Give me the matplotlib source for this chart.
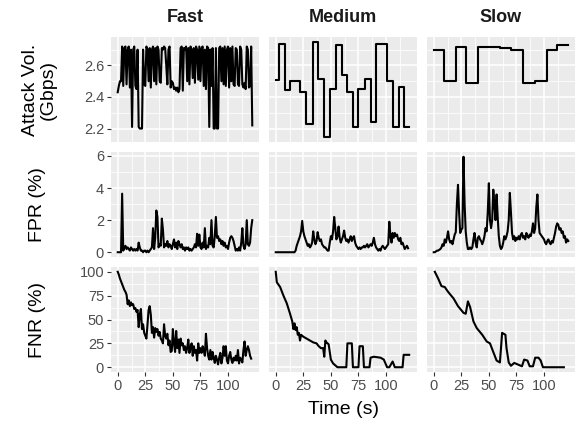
import matplotlib.pyplot as plt
import numpy as np

plt.rcParams['font.family'] = ['Liberation Sans', 'DejaVu Sans']

# facet labels
speeds = ['Fast', 'Medium', 'Slow']
row_titles = ['Attack Vol.\n(Gbps)', 'FPR (%)', 'FNR (%)']
x_ticks = [0, 25, 50, 75, 100]
y_ticks = [[2.2, 2.4, 2.6], [0, 2, 4, 6], [0, 25, 50, 75, 100]]

# --- attack volume (Gbps) ---
fast_vol = [2.43, 2.47, 2.50, 2.50, 2.72, 2.47, 2.71, 2.72, 2.48, 2.70, 2.72, 2.46, 2.70, 2.21,
            2.70, 2.72, 2.47, 2.45, 2.70, 2.21, 2.20, 2.20, 2.20, 2.70, 2.48, 2.47, 2.72, 2.70,
            2.50, 2.71, 2.46, 2.70, 2.72, 2.50, 2.71, 2.48, 2.72, 2.70, 2.50, 2.49, 2.71, 2.70,
            2.72, 2.71, 2.60, 2.48, 2.70, 2.72, 2.46, 2.50, 2.49, 2.45, 2.46, 2.44, 2.46, 2.43,
            2.45, 2.71, 2.72, 2.44, 2.71, 2.70, 2.72, 2.50, 2.71, 2.48, 2.72, 2.70, 2.52, 2.71,
            2.49, 2.72, 2.70, 2.51, 2.72, 2.50, 2.71, 2.72, 2.47, 2.70, 2.45, 2.72, 2.71, 2.21,
            2.70, 2.47, 2.71, 2.20, 2.20, 2.71, 2.20, 2.20, 2.71, 2.72, 2.50, 2.71, 2.48, 2.72,
            2.47, 2.70, 2.72, 2.46, 2.71, 2.50, 2.72, 2.48, 2.47, 2.71, 2.70, 2.48, 2.47, 2.72,
            2.70, 2.48, 2.46, 2.49, 2.45, 2.72, 2.70, 2.46, 2.47, 2.72, 2.22]
medium_vol_t = [0, 3, 8, 13, 22, 27, 34, 38, 44, 49, 55, 60, 65, 70, 75, 81, 86, 91, 101, 106,
                112, 116, 121]
medium_vol = [2.51, 2.735, 2.445, 2.50, 2.43, 2.23, 2.75, 2.515, 2.145, 2.45, 2.73, 2.54, 2.43,
              2.21, 2.45, 2.515, 2.24, 2.735, 2.50, 2.21, 2.465, 2.21, 2.21]
slow_vol_t = [0, 9, 20, 29, 40, 60, 70, 81, 92, 103, 112, 122]
slow_vol = [2.70, 2.50, 2.72, 2.49, 2.72, 2.71, 2.70, 2.49, 2.50, 2.70, 2.73, 2.73]

# --- false positive rate (%) ---
fast_fpr = [0, 0, 0, 0, 3.65, 0.1, 0.3, 0.4, 0.2, 0.3, 0.2, 0.1, 0.3, 0.2, 0.1, 0.2, 0.1, 0.2,
            0.1, 0.6, 0.3, 0.1, 0.1, 0.0, 0.1, 0.1, 0.0, 0.1, 0.0, 0.1, 0.2, 0.3, 1.5, 0.2, 0.9,
            2.6, 2.2, 0.3, 0.5, 0.4, 2.1, 1.4, 0.3, 0.5, 0.4, 0.7, 0.3, 0.5, 0.4, 0.2, 0.5, 0.8,
            0.3, 0.6, 0.2, 0.7, 0.5, 0.3, 0.5, 0.2, 0.3, 0.1, 0.3, 0.2, 0.3, 0.1, 0.2, 0.1, 0.2,
            0.3, 0.5, 0.3, 1.15, 0.4, 1.1, 0.3, 0.2, 0.6, 0.3, 1.5, 0.2, 0.4, 0.3, 0.9, 0.5, 2.0,
            0.4, 0.3, 1.0, 2.2, 0.9, 1.0, 0.7, 0.8, 0.5, 0.7, 0.4, 0.6, 0.3, 0.4, 0.2, 0.6, 0.9,
            1.0, 0.9, 0.7, 0.4, 0.1, 0.2, 0.1, 0.3, 0.1, 0.6, 1.5, 0.4, 0.2, 0.5, 2.0, 0.5, 0.4,
            0.6, 1.5, 2.0]
medium_fpr = [0, 0, 0, 0, 0, 0, 0, 0, 0, 0, 0, 0, 0, 0, 0, 0, 0, 0, 0.1, 0.4, 0.6, 0.8, 1.0,
              1.3, 1.95, 1.3, 1.0, 0.8, 0.6, 0.4, 0.5, 0.3, 0.4, 0.6, 1.3, 0.8, 0.5, 0.7, 1.25,
              0.9, 0.7, 0.8, 0.5, 0.4, 0.3, 0.3, 0.2, 0.1, 0.1, 0.6, 1.0, 0.8, 1.3, 2.2, 1.5, 0.8,
              1.0, 1.6, 0.9, 0.6, 0.8, 1.0, 1.35, 0.9, 0.7, 0.8, 0.6, 0.8, 1.0, 0.7, 0.9, 1.0,
              0.6, 0.4, 0.3, 0.2, 0.3, 0.2, 0.3, 0.3, 0.4, 0.3, 0.4, 0.5, 0.3, 0.4, 0.5, 0.4, 0.6,
              0.9, 0.5, 0.3, 0.2, 0.1, 0.2, 0.1, 0.3, 0.4, 0.3, 0.2, 0.3, 0.4, 0.5, 1.9, 1.0, 0.6,
              1.2, 0.9, 1.2, 1.0, 1.1, 0.8, 0.7, 0.9, 0.5, 0.6, 0.4, 0.2, 0.3, 0.4, 0.25]
slow_fpr = [0.0, 0.0, 0.05, 0.1, 0.1, 0.15, 0.2, 0.3, 0.5, 0.4, 0.8, 0.6, 0.9, 1.3, 0.8, 0.6,
            0.7, 0.5, 0.8, 1.1, 1.25, 3.0, 4.2, 2.5, 1.2, 1.4, 1.5, 5.95, 3.0, 1.3, 0.6, 0.2, 0.2,
            0.3, 0.2, 0.3, 0.8, 1.2, 0.6, 0.3, 0.9, 1.0, 0.8, 0.7, 0.5, 0.7, 1.0, 1.5, 1.3, 2.5,
            4.3, 2.0, 1.5, 2.0, 3.9, 3.0, 2.0, 3.6, 2.2, 1.0, 0.4, 0.2, 0.3, 0.6, 1.0, 0.8, 1.0,
            1.3, 2.0, 3.7, 2.5, 1.2, 0.8, 1.0, 0.7, 0.9, 0.8, 1.0, 0.8, 1.1, 1.2, 0.9, 1.0, 0.8,
            1.2, 1.0, 0.9, 1.1, 1.0, 1.3, 1.8, 1.2, 1.5, 2.8, 3.6, 2.0, 1.2, 1.1, 1.0, 0.9, 0.8,
            0.6, 0.5, 0.7, 0.8, 0.6, 0.5, 0.7, 0.6, 0.9, 1.2, 1.6, 1.8, 1.7, 1.4, 1.5, 1.2, 1.3,
            0.9, 1.0, 0.6, 0.8, 0.7]

# --- false negative rate (%) ---
fast_fnr = [100, 97, 93, 90, 87, 84, 81, 79, 76, 66, 70, 64, 68, 65, 66, 61, 62, 58, 60, 42, 55,
            61, 40, 45, 36, 33, 30, 45, 60, 64, 55, 36, 42, 31, 41, 37, 40, 33, 37, 30, 28, 25,
            45, 33, 30, 35, 23, 28, 16, 17, 40, 25, 16, 38, 20, 29, 15, 30, 23, 25, 18, 22, 15,
            20, 29, 15, 20, 25, 12, 22, 15, 18, 7, 25, 15, 20, 15, 22, 18, 12, 35, 20, 12, 8, 18,
            8, 16, 10, 4.5, 12, 8, 3, 10, 15, 4, 10, 22, 12, 22, 7, 4, 12, 16, 8, 4.5, 10, 7, 12,
            7, 18, 4, 10, 8, 5, 18, 27, 12, 18, 22, 18, 12, 9]
medium_fnr_t = [0, 1, 4, 7, 10, 13, 15, 16, 17, 18, 19, 20, 21, 22, 23, 25, 28, 31, 34, 37, 39,
                41, 43, 44, 45, 46, 48, 50, 52, 54, 56, 64, 65, 69, 70, 75, 76, 79, 80, 85, 86,
                89, 95, 98, 101, 103, 106, 108, 110, 115, 116, 121]
medium_fnr = [100, 89, 84, 75, 67, 56, 48, 40, 46, 39, 42, 34, 36, 28, 34, 32, 30, 28, 26, 25, 22,
              20, 20, 11, 28, 26, 24, 8, 4, 2, 0, 0, 25, 25, 0, 0, 22, 22, 0, 0, 10, 11, 10, 8, 0,
              0, 6, 0, 0, 0, 13, 13]
slow_fnr_t = [1, 4, 7, 10, 13, 18, 22, 27, 29, 31, 33, 36, 39, 44, 48, 51, 54, 57, 60, 61, 62,
              65, 66, 68, 70, 73, 78, 80, 82, 85, 87, 90, 92, 95, 97, 99, 118]
slow_fnr = [100, 93, 85, 84, 79, 72, 64, 57, 56, 69, 63, 48, 41, 34, 27, 25, 16, 7, 5, 20, 36, 34,
            20, 5, 1.5, 4.5, 2, 1, 8, 7, 1, 1, 10, 10, 7, 0, 0]

# (x, y, step?) per panel, rows = metric, cols = speed
panels = [
    [(np.arange(len(fast_vol)), fast_vol, False), (medium_vol_t, medium_vol, True),
     (slow_vol_t, slow_vol, True)],
    [(np.arange(len(fast_fpr)), fast_fpr, False), (np.arange(len(medium_fpr)), medium_fpr, False),
     (np.arange(len(slow_fpr)), slow_fpr, False)],
    [(np.arange(len(fast_fnr)), fast_fnr, False), (medium_fnr_t, medium_fnr, False),
     (slow_fnr_t, slow_fnr, False)],
]


def expand(lo, hi):
    pad = 0.05 * (hi - lo)
    return lo - pad, hi + pad


W, H = 579, 430
fig = plt.figure(figsize=(W / 100, H / 100), dpi=100)

col_left = [111, 269, 427]
row_top = [37, 152, 267]
pw, ph = 148, 105

x_all = np.concatenate([np.asarray(p[0], float) for row in panels for p in row])
xlim = expand(0, x_all.max())
x_minor = [12.5, 37.5, 62.5, 87.5, 112.5]

for r in range(3):
    y_all = np.concatenate([np.asarray(p[1], float) for p in panels[r]])
    ylim = expand(y_all.min(), y_all.max())
    yt = y_ticks[r]
    step = yt[1] - yt[0]
    y_minor = [v + step / 2 for v in [yt[0] - step] + yt]
    y_minor = [v for v in y_minor if ylim[0] < v < ylim[1]]
    for c in range(3):
        ax = fig.add_axes([col_left[c] / W, 1 - (row_top[r] + ph) / H, pw / W, ph / H])
        ax.set_facecolor('#EBEBEB')
        for s in ax.spines.values():
            s.set_visible(False)
        xs, ys, is_step = panels[r][c]
        if is_step:
            ax.step(xs, ys, where='post', color='black', lw=1.5)
        else:
            ax.plot(xs, ys, color='black', lw=1.5)
        ax.set_xlim(xlim)
        ax.set_ylim(ylim)
        ax.set_xticks(x_ticks)
        ax.set_xticks(x_minor, minor=True)
        ax.set_yticks(yt)
        ax.set_yticks(y_minor, minor=True)
        ax.grid(which='major', color='white', lw=1.1)
        ax.grid(which='minor', color='white', lw=0.55)
        ax.set_axisbelow(True)
        ax.tick_params(which='minor', length=0)
        ax.tick_params(which='major', length=3, width=0.8, color='#333333',
                       labelcolor='#4D4D4D', labelsize=10.5, pad=2)
        if c == 0:
            ax.set_yticklabels([f'{v:g}' for v in yt])
        else:
            ax.tick_params(axis='y', length=0, labelleft=False)
        if r == 2:
            ax.set_xticklabels([str(v) for v in x_ticks])
        else:
            ax.tick_params(axis='x', length=0, labelbottom=False)
        if r == 0:
            ax.set_title(speeds[c], fontsize=13, fontweight='bold', color='#1A1A1A', pad=11)

title_x = [39, 37, 37]
for r in range(3):
    fig.text(title_x[r] / W, 1 - (row_top[r] + ph / 2) / H, row_titles[r], rotation=90,
             ha='center', va='center', fontsize=14, linespacing=1.05)

fig.text((col_left[0] + col_left[2] + pw) / 2 / W, 1 - 409 / H, 'Time (s)',
         ha='center', va='center', fontsize=14)

fig.savefig('out.png', dpi=100)
